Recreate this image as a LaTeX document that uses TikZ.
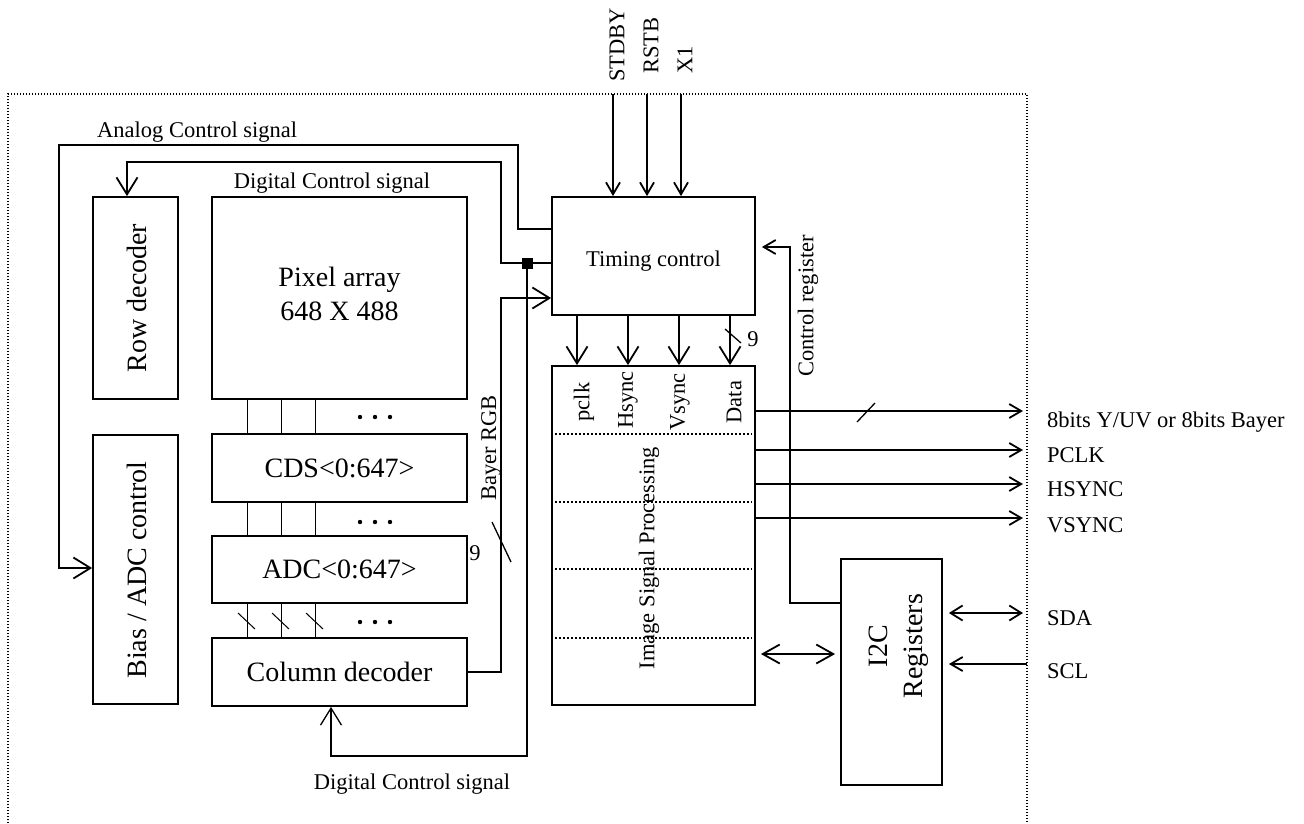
\documentclass[tikz,border=0pt]{standalone}
\usepackage{fontspec}
\setmainfont{Liberation Serif}
\usetikzlibrary{arrows.meta}
\begin{document}
\begin{tikzpicture}[x=1pt,y=-1pt,
  box/.style={draw, line width=1.8pt, inner sep=0pt, rectangle},
  sm/.style={font=\fontsize{22.5}{26}\selectfont, inner sep=0pt},
  bg/.style={font=\fontsize{28}{34}\selectfont, inner sep=0pt},
  wire/.style={line width=1.8pt},
  midw/.style={line width=1.3pt},
  thinw/.style={line width=1pt},
  frame/.style={line width=1.1pt, dash pattern=on 1.1pt off 1.9pt},
  ispdot/.style={line width=1.5pt, dash pattern=on 1.5pt off 2.5pt},
  arB/.style={-{Straight Barb[length=17pt,width=21pt]}},
  arS/.style={-{Straight Barb[length=12pt,width=14pt]}},
  dS/.style={{Straight Barb[length=12pt,width=15pt]}-{Straight Barb[length=12pt,width=15pt]}},
  dB/.style={{Straight Barb[length=17pt,width=19pt]}-{Straight Barb[length=17pt,width=19pt]}}
]
\useasboundingbox (0,0) rectangle (1304,823);
\fill[white] (0,0) rectangle (1304,823);

% outer dotted frame
\draw[frame] (8,823) -- (8,94) -- (1027,94) -- (1027,823);

% boxes
\node[box, minimum width=85pt, minimum height=202pt] (row) at (135.5,298) {};
\node[box, minimum width=85pt, minimum height=269pt] (bias) at (135.5,569.5) {};
\node[box, minimum width=255pt, minimum height=202pt] (pix) at (339.5,298) {};
\node[box, bg, minimum width=255pt, minimum height=68pt] (cds) at (339.5,468) {CDS<0:647>};
\node[box, bg, minimum width=255pt, minimum height=67pt] (adc) at (339.5,569.5) {ADC<0:647>};
\node[box, bg, minimum width=255pt, minimum height=68pt] (col) at (339.5,672) {Column decoder};
\node[box, minimum width=203pt, minimum height=118pt] (tim) at (653.5,256) {};
\node[box, minimum width=203pt, minimum height=339pt] (isp) at (653.5,535.5) {};
\node[box, minimum width=101pt, minimum height=226pt] (i2c) at (891.5,672) {};

% box texts
\node[bg, rotate=90] (rowt) at (137,298) {Row decoder};
\node[bg, rotate=90] (biast) at (137,570) {Bias / ADC control};
\node[bg, align=center] (pixt) at (339.5,294) {Pixel array\\648 X 488};
\node[sm] (timt) at (653.5,261) {Timing control};
\node[bg, rotate=90, align=center, font=\fontsize{28}{35}\selectfont] (i2ct) at (899,646) {I2C\\Registers};
\node[sm, rotate=90] (pclk) at (584,402) {pclk};
\node[sm, rotate=90] (hsync) at (628,400) {Hsync};
\node[sm, rotate=90] (vsync) at (680,402) {Vsync};
\node[sm, rotate=90] (data) at (734,402) {Data};
\node[sm, rotate=90] (ispt) at (649,558) {Image Signal Processing};

% ISP dotted separators
\foreach \yy in {434,502,569,638}{
  \draw[ispdot] ([xshift=4pt]isp.west |- 0,\yy) -- ([xshift=-4pt]isp.east |- 0,\yy);
}

% column links
\foreach \xx in {247,281,315}{
  \draw[thinw] (\xx,0 |- pix.south) -- (\xx,0 |- cds.north);
  \draw[thinw] (\xx,0 |- cds.south) -- (\xx,0 |- adc.north);
  \draw[thinw] (\xx,0 |- adc.south) -- (\xx,0 |- col.north);
  \draw[thinw] (\xx-9,613) -- (\xx+8,629);
}
\foreach \yy in {417,522,622}{
  \foreach \xx in {360,375,390}{
    \fill (\xx,\yy) circle (2.2pt);
  }
}

% labels
\node[sm, anchor=base west] (analog) at (97,137) {Analog Control signal};
\node[sm, anchor=base] (dcs1) at (332,188) {Digital Control signal};
\node[sm, anchor=base] (dcs2) at (412,789) {Digital Control signal};
\node[sm, rotate=90] (bayer) at (491,448) {Bayer RGB};
\node[sm] (nine1) at (475,553) {9};
\node[sm] (nine2) at (753,339) {9};
\node[sm, rotate=90] (ctrlreg) at (808,306) {Control register};
\node[sm, rotate=90, anchor=west] (stdby) at (617,82) {STDBY};
\node[sm, rotate=90, anchor=west] (rstb) at (651,74) {RSTB};
\node[sm, rotate=90, anchor=west] (xone) at (685,74) {X1};
\node[sm, anchor=base west] (o8) at (1047,427) {8bits Y/UV or 8bits Bayer};
\node[sm, anchor=base west] (opclk) at (1047,462) {PCLK};
\node[sm, anchor=base west] (ohs) at (1047,496) {HSYNC};
\node[sm, anchor=base west] (ovs) at (1047,532) {VSYNC};
\node[sm, anchor=base west] (osda) at (1047,625) {SDA};
\node[sm, anchor=base west] (oscl) at (1047,678) {SCL};

% inputs to timing
\coordinate (in1) at (613,94);
\coordinate (in2) at (647,94);
\coordinate (in3) at (681,94);
\draw[wire, arS] (in1) -- (in1 |- tim.north);
\draw[wire, arS] (in2) -- (in2 |- tim.north);
\draw[wire, arS] (in3) -- (in3 |- tim.north);

% analog control
\draw[wire, arB] (tim.west |- 0,229) -- (518,229) -- (518,145) -- (59,145) -- (59,568) -- (bias.west |- 0,568);
% digital control to row decoder
\draw[wire, arB] (tim.west |- 0,263) -- (501,263) -- (501,162) -- (127,162) -- (127,0 |- row.north);
% junction and digital control to column decoder
\node[fill, minimum size=11pt, inner sep=0pt] (jn) at (527,263) {};
\draw[midw, arB] (jn.center) -- (527,756) -- (331,756) -- (331,0 |- col.south);
% Bayer RGB
\draw[wire, arB] (col.east) -- (501,672) -- (501,298) -- (tim.west |- 0,298);
\draw[thinw, line width=1.3pt] (492,522) -- (511,562);

% timing to ISP
\foreach \xx in {577,628,679,730}{
  \draw[wire, arB] (\xx,0 |- tim.south) -- (\xx,0 |- isp.north);
}
\draw[thinw, line width=1.3pt] (725,329) -- (741,343);

% outputs
\coordinate (oe) at (1023,0);
\draw[wire, arS] (isp.east |- 0,411) -- (oe |- 0,411);
\draw[wire, arS] (isp.east |- 0,450) -- (oe |- 0,450);
\draw[wire, arS] (isp.east |- 0,484) -- (oe |- 0,484);
\draw[wire, arS] (isp.east |- 0,518) -- (oe |- 0,518);
\draw[thinw, line width=1.3pt] (857,422) -- (875,403);

% control register
\draw[wire, arS] (i2c.west |- 0,603) -- (790,603) -- (790,247) -- ([xshift=6pt]tim.east |- 0,247);

% ISP <-> I2C
\draw[wire, dB, shorten <=5pt, shorten >=5pt] (isp.east |- 0,654) -- (i2c.west |- 0,654);
% SDA / SCL
\draw[wire, dS, shorten <=6pt] (i2c.east |- 0,613) -- (oe |- 0,613);
\draw[wire, arS, shorten >=6pt] (1027,664) -- (i2c.east |- 0,664);
\end{tikzpicture}
\end{document}
